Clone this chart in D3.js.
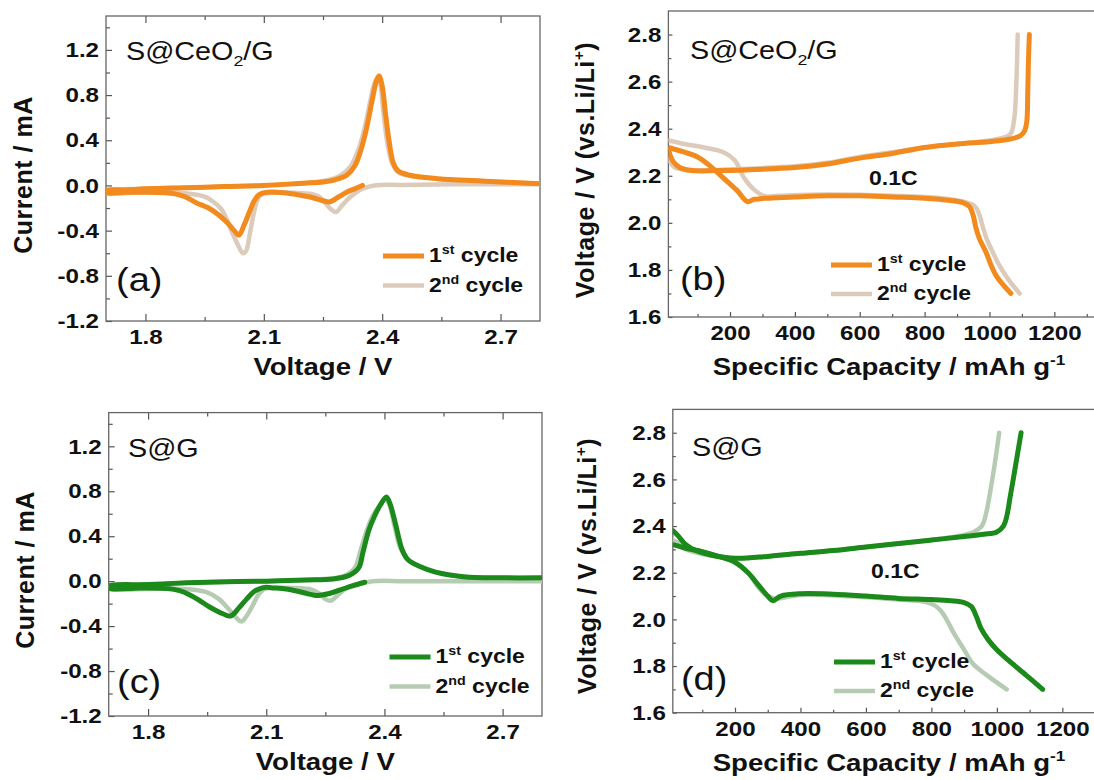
<!DOCTYPE html>
<html>
<head>
<meta charset="utf-8">
<script src="https://cdn.jsdelivr.net/npm/d3@7"></script>
<style>
  body { margin: 0; background: #fff; }
  text { font-family: "Liberation Sans", Arial, sans-serif; fill: #111; }
  .sx { transform-box: fill-box; transform: scaleX(1.15); }
  .sx-m { transform-origin: center; }
  .sx-s { transform-origin: left center; }
  .sx-e { transform-origin: right center; }
</style>
</head>
<body>
<svg id="chart" width="1094" height="780"></svg>
<script>
// ---- tick values ----
const cvVoltTicks = [1.8, 2.1, 2.4, 2.7];
const cvVoltMinor = [1.95, 2.25, 2.55];
const cvCurrTicks = [-1.2, -0.8, -0.4, 0, 0.4, 0.8, 1.2];
const cvCurrMinor = [-1.0, -0.6, -0.2, 0.2, 0.6, 1.0, 1.4];
const capTicks = [200, 400, 600, 800, 1000, 1200];
const capMinor = [100, 300, 500, 700, 900, 1100, 1300];
const gcdVoltTicks = [1.6, 1.8, 2.0, 2.2, 2.4, 2.6, 2.8];
const gcdVoltMinor = [1.7, 1.9, 2.1, 2.3, 2.5, 2.7];

// ---- (a) CV, S@CeO2/G : [voltage V, current mA] ----
const cvCeO2Cycle1 = [
  [2.35, 0.0], [2.33, -0.03], [2.31, -0.06], [2.29, -0.10], [2.267, -0.145], [2.25, -0.135],
  [2.22, -0.105], [2.19, -0.085], [2.15, -0.065], [2.11, -0.06], [2.095, -0.07], [2.085, -0.09],
  [2.075, -0.14], [2.063, -0.24], [2.05, -0.35], [2.037, -0.44], [2.025, -0.40], [2.01, -0.34],
  [1.985, -0.26], [1.96, -0.20], [1.93, -0.155], [1.90, -0.10], [1.875, -0.075], [1.85, -0.065],
  [1.80, -0.06], [1.75, -0.06], [1.70, -0.065],
  [1.70, -0.045], [1.75, -0.04], [1.80, -0.03], [1.90, -0.02], [2.00, -0.01], [2.10, 0.0],
  [2.20, 0.02], [2.25, 0.03], [2.28, 0.05], [2.31, 0.09], [2.33, 0.17], [2.345, 0.30],
  [2.36, 0.50], [2.375, 0.76], [2.385, 0.92], [2.392, 0.97], [2.40, 0.88], [2.408, 0.65],
  [2.418, 0.38], [2.428, 0.20], [2.44, 0.13], [2.47, 0.09], [2.54, 0.06], [2.65, 0.04], [2.80, 0.015]
];
const cvCeO2Cycle2 = [
  [2.80, 0.01], [2.60, 0.01], [2.45, 0.005], [2.38, 0.0], [2.35, -0.03], [2.32, -0.10],
  [2.30, -0.17], [2.283, -0.235], [2.27, -0.21], [2.255, -0.15], [2.24, -0.10], [2.22, -0.075],
  [2.18, -0.065], [2.12, -0.065], [2.095, -0.08], [2.085, -0.12], [2.075, -0.24], [2.065, -0.42],
  [2.055, -0.58], [2.047, -0.60], [2.035, -0.53], [2.02, -0.42], [2.005, -0.29], [1.99, -0.20],
  [1.97, -0.14], [1.95, -0.10], [1.90, -0.07], [1.80, -0.06], [1.70, -0.065],
  [1.70, -0.045], [1.80, -0.03], [1.90, -0.02], [2.00, -0.01], [2.10, 0.0], [2.20, 0.02],
  [2.25, 0.04], [2.29, 0.08], [2.32, 0.17], [2.34, 0.32], [2.355, 0.50], [2.37, 0.75],
  [2.38, 0.90], [2.388, 0.95], [2.395, 0.90], [2.403, 0.65], [2.413, 0.38], [2.425, 0.20],
  [2.44, 0.12], [2.47, 0.085], [2.54, 0.06], [2.65, 0.04], [2.80, 0.015]
];

// ---- (c) CV, S@G ----
const cvGCycle1 = [
  [2.35, -0.01], [2.32, -0.04], [2.29, -0.075], [2.26, -0.11], [2.227, -0.128], [2.21, -0.115],
  [2.18, -0.09], [2.15, -0.07], [2.12, -0.06], [2.10, -0.055], [2.09, -0.06], [2.07, -0.09],
  [2.05, -0.16], [2.03, -0.24], [2.01, -0.31], [1.99, -0.29], [1.956, -0.23], [1.93, -0.17],
  [1.905, -0.12], [1.88, -0.085], [1.85, -0.065], [1.78, -0.06], [1.70, -0.065],
  [1.70, -0.045], [1.80, -0.03], [1.90, -0.015], [2.00, -0.005], [2.10, 0.0], [2.20, 0.01],
  [2.27, 0.02], [2.31, 0.05], [2.335, 0.12], [2.345, 0.25], [2.36, 0.45], [2.375, 0.58],
  [2.39, 0.68], [2.405, 0.75], [2.415, 0.68], [2.428, 0.51], [2.445, 0.28], [2.46, 0.19],
  [2.49, 0.13], [2.53, 0.08], [2.60, 0.04], [2.70, 0.03], [2.80, 0.03]
];
const cvGCycle2 = [
  [2.80, 0.0], [2.60, 0.0], [2.45, 0.0], [2.37, 0.0], [2.33, -0.03], [2.30, -0.07],
  [2.28, -0.13], [2.263, -0.175], [2.25, -0.16], [2.235, -0.11], [2.215, -0.075], [2.17, -0.06],
  [2.12, -0.06], [2.095, -0.07], [2.08, -0.12], [2.065, -0.22], [2.05, -0.31], [2.037, -0.36],
  [2.025, -0.33], [2.005, -0.25], [1.98, -0.16], [1.95, -0.10], [1.91, -0.075], [1.85, -0.065],
  [1.70, -0.065],
  [1.70, -0.045], [1.80, -0.03], [1.90, -0.015], [2.00, -0.005], [2.10, 0.0], [2.20, 0.01],
  [2.27, 0.025], [2.30, 0.05], [2.325, 0.12], [2.34, 0.28], [2.355, 0.45], [2.37, 0.58],
  [2.385, 0.66], [2.40, 0.72], [2.41, 0.70], [2.425, 0.50], [2.44, 0.30], [2.46, 0.19],
  [2.49, 0.13], [2.53, 0.08], [2.60, 0.04], [2.80, 0.03]
];

// ---- (b) charge/discharge, S@CeO2/G : [capacity mAh/g, voltage V] ----
const gcdCeO2Dis1 = [
  [10, 2.32], [60, 2.30], [100, 2.28], [140, 2.24], [180, 2.19], [220, 2.14], [254, 2.09],
  [275, 2.10], [320, 2.105], [400, 2.11], [500, 2.115], [600, 2.115], [700, 2.11], [800, 2.105],
  [880, 2.095], [920, 2.085], [938, 2.07], [950, 2.03], [958, 1.98], [970, 1.93], [991, 1.87],
  [1005, 1.82], [1023, 1.77], [1066, 1.70]
];
const gcdCeO2Chg1 = [
  [10, 2.31], [25, 2.26], [45, 2.235], [80, 2.222], [160, 2.222], [250, 2.225], [400, 2.235],
  [500, 2.25], [600, 2.275], [700, 2.295], [800, 2.32], [900, 2.335], [1000, 2.345],
  [1060, 2.355], [1095, 2.37], [1108, 2.39], [1115, 2.43], [1118, 2.55], [1120, 2.68], [1123, 2.80]
];
const gcdCeO2Dis2 = [
  [10, 2.35], [60, 2.335], [120, 2.32], [180, 2.30], [215, 2.265], [244, 2.19], [275, 2.14],
  [308, 2.113], [350, 2.115], [500, 2.12], [700, 2.115], [850, 2.105], [920, 2.09], [955, 2.07],
  [970, 2.03], [980, 1.98], [992, 1.93], [1012, 1.87], [1030, 1.82], [1058, 1.76], [1093, 1.70]
];
const gcdCeO2Chg2 = [
  [10, 2.27], [30, 2.235], [80, 2.225], [160, 2.225], [250, 2.23], [400, 2.24], [500, 2.255],
  [600, 2.28], [700, 2.30], [800, 2.32], [900, 2.335], [1000, 2.35], [1050, 2.365],
  [1066, 2.38], [1077, 2.45], [1083, 2.60], [1087, 2.80]
];

// ---- (d) charge/discharge, S@G ----
const gcdGDis1 = [
  [10, 2.32], [50, 2.305], [100, 2.29], [150, 2.27], [200, 2.245], [240, 2.20], [270, 2.15],
  [300, 2.10], [316, 2.08], [340, 2.10], [400, 2.11], [500, 2.108], [600, 2.10], [700, 2.09],
  [800, 2.085], [860, 2.08], [900, 2.072], [922, 2.055], [938, 2.01], [952, 1.96], [975, 1.91],
  [1000, 1.87], [1034, 1.826], [1090, 1.76], [1140, 1.70]
];
const gcdGChg1 = [
  [10, 2.38], [25, 2.36], [50, 2.32], [80, 2.295], [130, 2.275], [200, 2.262], [300, 2.27],
  [400, 2.283], [500, 2.295], [600, 2.31], [700, 2.325], [800, 2.34], [900, 2.355], [960, 2.365],
  [1000, 2.375], [1020, 2.40], [1030, 2.44], [1040, 2.52], [1050, 2.60], [1062, 2.70], [1074, 2.80]
];
const gcdGDis2 = [
  [10, 2.34], [60, 2.305], [100, 2.29], [150, 2.27], [200, 2.245], [240, 2.20], [270, 2.14],
  [290, 2.11], [320, 2.09], [400, 2.105], [600, 2.095], [700, 2.085], [780, 2.075], [810, 2.06],
  [830, 2.035], [850, 1.99], [873, 1.93], [900, 1.87], [927, 1.81], [970, 1.76], [1030, 1.70]
];
const gcdGChg2 = [
  [10, 2.33], [50, 2.30], [100, 2.28], [200, 2.262], [300, 2.27], [400, 2.283], [500, 2.295],
  [600, 2.31], [700, 2.325], [800, 2.34], [900, 2.362], [930, 2.375], [954, 2.40], [968, 2.46],
  [980, 2.55], [995, 2.68], [1007, 2.80]
];

const orange = "#f28a1e", beige = "#dccbbb", green = "#1b8a1b", lightGreen = "#b6ccb2";

const svg = d3.select("#chart");

function richText(sel, parts, base) {
  let shift = 0;
  parts.forEach((pt) => {
    const target = pt.s === "sup" ? -base * 0.4 : pt.s === "sub" ? base * 0.25 : 0;
    const ts = sel.append("tspan").text(pt.t).attr("dy", target - shift);
    if (pt.s) ts.attr("font-size", base * 0.62);
    shift = target;
  });
}

const panels = [
  {
    key: "a", cv: true, left: 106, right: 540, top: 16, bottom: 321,
    series: [cvCeO2Cycle2, cvCeO2Cycle1], colors: [beige, orange],
    title: [{ t: "S@CeO" }, { t: "2", s: "sub" }, { t: "/G" }], titlePos: [126, 60],
    tag: "(a)", tagPos: [116, 291], legendPos: [383, 256], yTitlePos: [23, 175]
  },
  {
    key: "b", cv: false, left: 668.4, right: 1119.2, top: 11, bottom: 317,
    series: [gcdCeO2Dis2, gcdCeO2Chg2, gcdCeO2Dis1, gcdCeO2Chg1], colors: [beige, beige, orange, orange],
    title: [{ t: "S@CeO" }, { t: "2", s: "sub" }, { t: "/G" }], titlePos: [690, 59],
    tag: "(b)", tagPos: [680, 290], legendPos: [831, 265], yTitlePos: [585, 170], ratePos: [869, 185]
  },
  {
    key: "c", cv: true, left: 108.7, right: 542, top: 412.6, bottom: 716,
    series: [cvGCycle2, cvGCycle1], colors: [lightGreen, green],
    title: [{ t: "S@G" }], titlePos: [128, 457],
    tag: "(c)", tagPos: [117, 693], legendPos: [389.5, 657], yTitlePos: [24.5, 570]
  },
  {
    key: "d", cv: false, left: 672.8, right: 1127.8, top: 409.4, bottom: 712.7,
    series: [gcdGDis2, gcdGChg2, gcdGDis1, gcdGChg1], colors: [lightGreen, lightGreen, green, green],
    title: [{ t: "S@G" }], titlePos: [692, 456],
    tag: "(d)", tagPos: [681, 690], legendPos: [834, 662], yTitlePos: [587, 566], ratePos: [871, 578]
  }
];

const styleAxis = (sel) => {
  sel.select(".domain").remove();
  sel.selectAll("line").attr("stroke", "#555").attr("stroke-width", 1.2);
};

panels.forEach((p) => {
  const x = d3.scaleLinear()
    .domain(p.cv ? [1.7, 2.8] : [10, 1400])
    .range([p.left, p.right]);
  const y = d3.scaleLinear()
    .domain(p.cv ? [-1.2, 1.5] : [1.6, 2.9])
    .range([p.bottom, p.top]);
  const g = svg.append("g");

  const major = p.cv ? 7 : 5, minor = p.cv ? 4 : 3;
  const xMajor = p.cv ? cvVoltTicks : capTicks;
  const xMinor = p.cv ? cvVoltMinor : capMinor;
  const yMajor = p.cv ? cvCurrTicks : gcdVoltTicks;
  const yMinor = p.cv ? cvCurrMinor : gcdVoltMinor;

  // bottom axis
  g.append("g").attr("transform", `translate(0,${p.bottom})`)
    .call(d3.axisBottom(x).tickValues(xMajor).tickSizeOuter(0).tickSize(-major).tickPadding(8)
      .tickFormat((d) => (p.cv ? d.toFixed(1) : String(d))))
    .call(styleAxis)
    .selectAll("text").attr("class", "sx sx-m").style("font-size", "21px").style("font-weight", "bold");
  g.append("g").attr("transform", `translate(0,${p.bottom})`)
    .call(d3.axisBottom(x).tickValues(xMinor).tickSizeOuter(0).tickSize(-minor).tickFormat(""))
    .call(styleAxis);

  // left axis
  g.append("g").attr("transform", `translate(${p.left},0)`)
    .call(d3.axisLeft(y).tickValues(yMajor).tickSizeOuter(0).tickSize(-major + 1).tickPadding(7)
      .tickFormat((d) => d.toFixed(1)))
    .call(styleAxis)
    .selectAll("text").attr("class", "sx sx-e").style("font-size", "21px").style("font-weight", "bold");
  g.append("g").attr("transform", `translate(${p.left},0)`)
    .call(d3.axisLeft(y).tickValues(yMinor).tickSizeOuter(0).tickSize(-minor).tickFormat(""))
    .call(styleAxis);

  // top ticks only on CV panels
  if (p.cv) {
    g.append("g").attr("transform", `translate(0,${p.top})`)
      .call(d3.axisTop(x).tickValues(xMajor).tickSizeOuter(0).tickSize(-major).tickFormat(""))
      .call(styleAxis);
    g.append("g").attr("transform", `translate(0,${p.top})`)
      .call(d3.axisTop(x).tickValues(xMinor).tickSizeOuter(0).tickSize(-minor).tickFormat(""))
      .call(styleAxis);
  }

  // frame
  g.append("rect")
    .attr("x", p.left).attr("y", p.top)
    .attr("width", p.right - p.left).attr("height", p.bottom - p.top)
    .attr("fill", "none").attr("stroke", "#666").attr("stroke-width", 1.3);

  // curves
  g.append("clipPath").attr("id", "clip-" + p.key)
    .append("rect").attr("x", p.left).attr("y", p.top)
    .attr("width", p.right - p.left).attr("height", p.bottom - p.top);
  const line = d3.line()
    .x((d) => x(d[0])).y((d) => y(d[1]))
    .curve(d3.curveCatmullRom.alpha(0.5));
  g.append("g").attr("clip-path", `url(#clip-${p.key})`)
    .selectAll("path")
    .data(p.series)
    .join("path")
    .attr("d", line)
    .attr("fill", "none")
    .attr("stroke", (d, i) => p.colors[i])
    .attr("stroke-width", (d, i) => (p.colors[i] === orange || p.colors[i] === green ? 5 : 4.5))
    .attr("stroke-linejoin", "round")
    .attr("stroke-linecap", "round");

  // axis titles
  if (p.cv) {
    g.append("text").attr("class", "sx sx-m")
      .attr("x", (p.left + p.right) / 2).attr("y", p.bottom + 54)
      .attr("text-anchor", "middle").style("font-size", "24px").style("font-weight", "bold")
      .text("Voltage / V");
    g.append("text")
      .attr("transform", `translate(${p.yTitlePos[0]},${p.yTitlePos[1]}) rotate(-90)`)
      .attr("dy", "0.36em").attr("text-anchor", "middle")
      .style("font-size", "25px").style("font-weight", "bold").style("letter-spacing", "0.5px")
      .text("Current / mA");
  } else {
    const xt = g.append("text").attr("class", "sx sx-m")
      .attr("x", 889).attr("y", p.bottom + 58)
      .attr("text-anchor", "middle").style("font-size", "24px").style("font-weight", "bold");
    richText(xt, [{ t: "Specific Capacity / mAh g" }, { t: "-1", s: "sup" }], 24);
    const yt = g.append("text")
      .attr("transform", `translate(${p.yTitlePos[0]},${p.yTitlePos[1]}) rotate(-90)`)
      .attr("y", 9).attr("text-anchor", "middle")
      .style("font-size", "25px").style("font-weight", "bold").style("letter-spacing", "0.5px");
    richText(yt, [{ t: "Voltage / V (vs.Li/Li" }, { t: "+", s: "sup" }, { t: ")" }], 25);

    g.append("text").attr("class", "sx sx-s")
      .attr("x", p.ratePos[0]).attr("y", p.ratePos[1])
      .style("font-size", "20px").style("font-weight", "bold")
      .text("0.1C");
  }

  // sample name and panel tag
  const st = g.append("text").attr("class", "sx sx-s")
    .attr("x", p.titlePos[0]).attr("y", p.titlePos[1]).style("font-size", "25px");
  richText(st, p.title, 25);
  g.append("text").attr("class", "sx sx-s")
    .attr("x", p.tagPos[0]).attr("y", p.tagPos[1]).style("font-size", "33px")
    .text(p.tag);

  // legend
  const legendItems = [
    { color: p.colors[p.colors.length - 1], n: "1", sup: "st", w: 5 },
    { color: p.colors[0], n: "2", sup: "nd", w: 4.5 }
  ];
  legendItems.forEach((it, i) => {
    const ly = p.legendPos[1] + i * (p.cv ? 29.5 : 29);
    g.append("line")
      .attr("x1", p.legendPos[0]).attr("x2", p.legendPos[0] + 41)
      .attr("y1", ly).attr("y2", ly)
      .attr("stroke", it.color).attr("stroke-width", it.w);
    const lt = g.append("text").attr("class", "sx sx-s")
      .attr("x", p.legendPos[0] + 46).attr("y", ly + 6.5)
      .style("font-size", "20px").style("font-weight", "bold");
    richText(lt, [{ t: it.n }, { t: it.sup, s: "sup" }, { t: " cycle" }], 20);
  });
});
</script>
</body>
</html>
